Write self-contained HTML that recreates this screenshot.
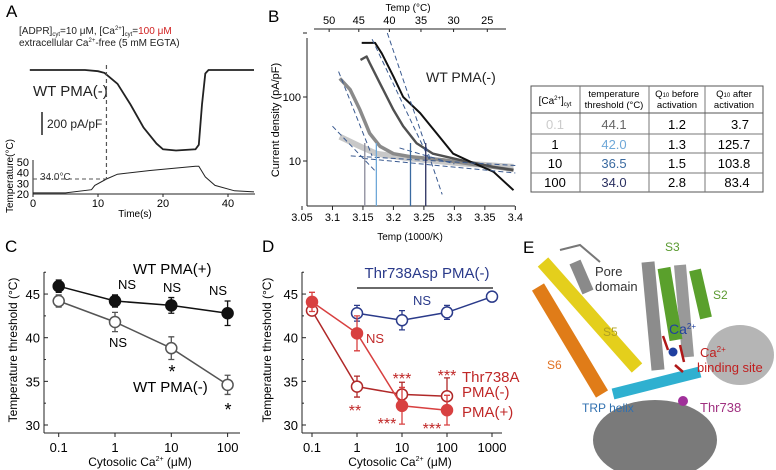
<!DOCTYPE html>
<html><head><meta charset="utf-8">
<style>
html,body{margin:0;padding:0;background:#fff;}
svg{display:block;font-family:"Liberation Sans",Arial,sans-serif;}
</style></head>
<body>
<svg id="fig" width="776" height="470" viewBox="0 0 776 470" xmlns="http://www.w3.org/2000/svg" font-family="Liberation Sans, Arial, sans-serif">
<!-- Panel A static -->
<g id="pA">
<text x="6" y="17" font-size="17">A</text>
<text x="19" y="34" font-size="10" fill="#222">[ADPR]<tspan font-size="6" dy="2">cyt</tspan><tspan dy="-2">=10 μM, [Ca</tspan><tspan font-size="6" dy="-4">2+</tspan><tspan dy="4">]</tspan><tspan font-size="6" dy="2">cyt</tspan><tspan dy="-2">=</tspan><tspan fill="#d02020">100 μM</tspan></text>
<text x="19" y="46" font-size="10" fill="#222">extracellular Ca<tspan font-size="6" dy="-4">2+</tspan><tspan dy="4">-free (5 mM EGTA)</tspan></text>
<text x="33" y="96" font-size="15" fill="#222">WT PMA(-)</text>
<line x1="42" y1="112" x2="42" y2="135" stroke="#222" stroke-width="1.5"/>
<text x="47" y="128" font-size="12" fill="#222">200 pA/pF</text>
<line x1="33" y1="160" x2="33" y2="194" stroke="#222"/>
<line x1="33" y1="194" x2="255" y2="194" stroke="#222"/>
<text font-size="10" text-anchor="middle" transform="rotate(-90)" x="-176" y="13">Temperature(°C)</text>
<text x="135" y="217" font-size="10" text-anchor="middle">Time(s)</text>
<text x="40" y="180" font-size="10" fill="#333">34.0°C</text>
</g>
<!-- Panel B static -->
<g id="pB">
<text x="268" y="22" font-size="17">B</text>
<text x="408" y="11" font-size="10" text-anchor="middle">Temp (°C)</text>
<line x1="314" y1="29" x2="506" y2="29" stroke="#222"/>
<line x1="307" y1="38" x2="307" y2="206" stroke="#222"/>
<line x1="307" y1="206" x2="515" y2="206" stroke="#222"/>
<text font-size="11" text-anchor="middle" transform="rotate(-90)" x="-120" y="279">Current density (pA/pF)</text>
<text x="410" y="240" font-size="10" text-anchor="middle">Temp (1000/K)</text>
<text x="426" y="82" font-size="14" fill="#222">WT PMA(-)</text>
</g>
<!-- Table -->
<g id="tbl" font-size="13" text-anchor="middle">
<rect x="531" y="86" width="232" height="106" fill="none" stroke="#555"/>
<line x1="580" y1="86" x2="580" y2="192" stroke="#777"/>
<line x1="649" y1="86" x2="649" y2="192" stroke="#777"/>
<line x1="705" y1="86" x2="705" y2="192" stroke="#777"/>
<line x1="531" y1="113" x2="763" y2="113" stroke="#555"/>
<line x1="531" y1="134" x2="763" y2="134" stroke="#777"/>
<line x1="531" y1="153" x2="763" y2="153" stroke="#777"/>
<line x1="531" y1="173" x2="763" y2="173" stroke="#777"/>
<text x="555" y="104" font-size="10">[Ca<tspan font-size="6" dy="-4">2+</tspan><tspan dy="4">]</tspan><tspan font-size="6" dy="2">cyt</tspan></text>
<text x="614" y="97" font-size="9.5">temperature</text>
<text x="614" y="108" font-size="9.5">threshold (°C)</text>
<text x="677" y="97" font-size="9.5">Q<tspan font-size="6">10</tspan> before</text>
<text x="677" y="108" font-size="9.5">activation</text>
<text x="734" y="97" font-size="9.5">Q<tspan font-size="6">10</tspan> after</text>
<text x="734" y="108" font-size="9.5">activation</text>
<text x="555" y="129" fill="#ccc">0.1</text>
<text x="614" y="129" fill="#666">44.1</text>
<text x="677" y="129">1.2</text>
<text x="740" y="129">3.7</text>
<text x="555" y="149">1</text>
<text x="614" y="149" fill="#6fa8d8">42.0</text>
<text x="677" y="149">1.3</text>
<text x="734" y="149">125.7</text>
<text x="555" y="168">10</text>
<text x="614" y="168" fill="#3a6aa0">36.5</text>
<text x="677" y="168">1.5</text>
<text x="734" y="168">103.8</text>
<text x="555" y="187">100</text>
<text x="614" y="187" fill="#2a3060">34.0</text>
<text x="677" y="187">2.8</text>
<text x="737" y="187">83.4</text>
</g>
<!-- Panel C static -->
<g id="pC">
<text x="5" y="252" font-size="17">C</text>
<line x1="44" y1="272" x2="44" y2="433" stroke="#222"/>
<line x1="44" y1="433" x2="240" y2="433" stroke="#222"/>
<text font-size="12" text-anchor="middle" transform="rotate(-90)" x="-350" y="17">Temperature threshold (°C)</text>
<text x="140" y="466" font-size="12" text-anchor="middle">Cytosolic Ca<tspan font-size="7" dy="-5">2+</tspan><tspan dy="5"> (μM)</tspan></text>
<text x="133" y="274" font-size="15">WT PMA(+)</text>
<text x="133" y="392" font-size="15">WT PMA(-)</text>
<g font-size="13" text-anchor="middle">
<text x="127" y="289">NS</text>
<text x="172" y="292">NS</text>
<text x="218" y="295">NS</text>
<text x="118" y="347">NS</text>
<text x="172" y="378" font-size="18">*</text>
<text x="228" y="416" font-size="18">*</text>
</g>
</g>
<!-- Panel D static -->
<g id="pD">
<text x="262" y="252" font-size="17">D</text>
<line x1="302" y1="272" x2="302" y2="433" stroke="#222"/>
<line x1="302" y1="433" x2="502" y2="433" stroke="#222"/>
<text font-size="12" text-anchor="middle" transform="rotate(-90)" x="-350" y="271">Temperature threshold (°C)</text>
<text x="400" y="466" font-size="12" text-anchor="middle">Cytosolic Ca<tspan font-size="7" dy="-5">2+</tspan><tspan dy="5"> (μM)</tspan></text>
<text x="427" y="278" font-size="15" fill="#2a3a8a" text-anchor="middle">Thr738Asp PMA(-)</text>
<line x1="357" y1="288" x2="493" y2="288" stroke="#111" stroke-width="1.3"/>
<text x="422" y="305" font-size="13" fill="#2a3a8a" text-anchor="middle">NS</text>
<g fill="#c02828" font-size="13">
<text x="375" y="343" text-anchor="middle">NS</text>
<text x="402" y="384" font-size="16" text-anchor="middle">***</text>
<text x="447" y="381" font-size="16" text-anchor="middle">***</text>
<text x="355" y="416" font-size="16" text-anchor="middle">**</text>
<text x="387" y="429" font-size="16" text-anchor="middle">***</text>
<text x="432" y="434" font-size="16" text-anchor="middle">***</text>
<text x="462" y="382" font-size="15">Thr738Ala</text>
<text x="462" y="397" font-size="15">PMA(-)</text>
<text x="462" y="417" font-size="15">PMA(+)</text>
</g>
</g>
<!-- Panel E -->
<g id="pE">
<rect x="520" y="232" width="256" height="238" fill="#fff"/>
<ellipse cx="655" cy="440" rx="62" ry="40" fill="#7a7a7a"/>
<ellipse cx="740" cy="355" rx="34" ry="30" fill="#b5b5b5"/>
<path d="M560,250 L580,245 L600,262" stroke="#777" stroke-width="2" fill="none"/>
<line x1="575" y1="262" x2="588" y2="292" stroke="#8a8a8a" stroke-width="12"/>
<line x1="648" y1="262" x2="658" y2="370" stroke="#8c8c8c" stroke-width="13"/>
<line x1="680" y1="265" x2="688" y2="357" stroke="#999" stroke-width="12"/>
<line x1="664" y1="268" x2="676" y2="340" stroke="#5aa02c" stroke-width="13"/>
<line x1="695" y1="270" x2="706" y2="318" stroke="#5aa02c" stroke-width="12"/>
<line x1="538" y1="287" x2="602" y2="394" stroke="#e07c18" stroke-width="14"/>
<line x1="543" y1="262" x2="637" y2="368" stroke="#e4cf1c" stroke-width="14"/>
<line x1="613" y1="394" x2="700" y2="372" stroke="#2fb0d0" stroke-width="11"/>
<circle cx="673" cy="352" r="4.5" fill="#1f3fa0"/>
<path d="M663,336 L668,350 M680,345 L684,362 M675,365 L683,372" stroke="#b01818" stroke-width="2.5"/>
<circle cx="683" cy="401" r="5" fill="#a0309a"/>
<text x="523" y="253" font-size="17">E</text>
<text x="595" y="276" font-size="13" fill="#333">Pore</text>
<text x="595" y="291" font-size="13" fill="#333">domain</text>
<text x="665" y="251" font-size="12" fill="#5a9a30">S3</text>
<text x="713" y="299" font-size="12" fill="#5a9a30">S2</text>
<text x="603" y="336" font-size="12" fill="#b0a020">S5</text>
<text x="547" y="369" font-size="12" fill="#e07020">S6</text>
<text x="669" y="334" font-size="14" fill="#2040a0">Ca<tspan font-size="8" dy="-5">2+</tspan></text>
<text x="700" y="357" font-size="13" fill="#c02020">Ca<tspan font-size="8" dy="-5">2+</tspan></text>
<text x="697" y="372" font-size="13" fill="#c02020">binding site</text>
<text x="582" y="412" font-size="12" fill="#3070b0">TRP helix</text>
<text x="700" y="412" font-size="13" fill="#a03080">Thr738</text>
</g>
<g id="marks"></g>
</svg>
<script>
// Panel A data
const aTime=[-0.5,8,10,11,13,15,17,19,20,22,25,25.5,26,26.5,27,34];
const aCurrent=[0,0,-10,-25,-120,-300,-500,-640,-690,-700,-690,-650,-300,-30,0,0];
const aTempTime=[0,5,9,9.5,11.3,13,18,25,25.5,26.5,28,31,34];
const aTemp=[21,21,24,28,34,38.5,42,46,46,36,28,23,22];
const aTempTicks=[20,30,40,50];
const aTimeTicks=[0,10,20,30];
const aTimeTickLabels=["0","10","20","40"];
const aThreshold=34.0;
const aThresholdTime=11.3;
// Panel B data (x: 1000/K, y: pA/pF)
const bInvT100=[3.148,3.170,3.181,3.200,3.216,3.244,3.271,3.298,3.331,3.364,3.397];
const bCur100=[700,700,480,210,100,56,27,13,9.3,6.8,3.5];
const bInvT10=[3.146,3.156,3.161,3.178,3.200,3.216,3.238,3.265,3.309,3.364,3.397];
const bCur10=[380,430,340,163,63,35,19,13,10.4,8.1,7.2];
const bInvT1=[3.112,3.129,3.145,3.161,3.178,3.200,3.227,3.282,3.336,3.397];
const bCur1=[195,130,63,27,17,13,11.7,10.4,8.7,7.2];
const bInvT01=[3.112,3.145,3.172,3.227,3.309,3.397];
const bCur01=[24,17,13,11,9.2,8.1];
const bThresholdInvT=[3.153,3.172,3.228,3.253];
const bXTicks=[3.05,3.1,3.15,3.2,3.25,3.3,3.35,3.4];
const bYTicks=[10,100,1000];
const bYTickLabels=["10","100",""];
const bTopTicks=[50,45,40,35,30,25];
// Panel C data
const cConc=[0.1,1,10,100];
const cPlus=[45.9,44.2,43.7,42.8];
const cPlusErr=[0.7,0.7,0.9,1.4];
const cMinus=[44.2,41.8,38.8,34.6];
const cMinusErr=[0.7,1.1,1.3,1.1];
const cdYTicks=[30,35,40,45];
// Panel D data
const dConcAsp=[1,10,100,1000];
const dAsp=[42.8,42.0,42.9,44.7];
const dAspErr=[0.9,1.1,0.8,0.3];
const dConcAla=[0.1,1,10,100];
const dAlaMinus=[43.1,34.4,33.5,33.3];
const dAlaMinusErr=[0.5,1.2,1.4,2.1];
const dAlaPlus=[44.1,40.5,32.2,31.7];
const dAlaPlusErr=[1.1,2.0,2.1,1.7];
const dXTicks=[0.1,1,10,100,1000];

const NS='http://www.w3.org/2000/svg';
const root=document.getElementById('marks');
function mk(tag,attrs){const e=document.createElementNS(NS,tag);for(const k in attrs)e.setAttribute(k,attrs[k]);root.appendChild(e);return e;}
function pts(xs,ys,fx,fy){return xs.map((x,i)=>fx(x).toFixed(1)+','+fy(ys[i]).toFixed(1)).join(' ');}

// Axis functions
const AX=t=>33+t*6.5;
const AY=c=>70-c*23/200;
const ATY=T=>194-(T-20)*1.07;
const BX=v=>302+(v-3.05)*609.5;
const BY=c=>161-64*(Math.log10(c)-1);
const CX=c=>115+56.3*Math.log10(c);
const CY=t=>425-(t-30)*8.73;
const DX=c=>357+45*Math.log10(c);

// Panel A
let e=mk('polyline',{points:pts(aTime,aCurrent,AX,AY),fill:'none',stroke:'#222','stroke-width':1.8});


e=mk('polyline',{points:pts(aTempTime,aTemp,AX,ATY),fill:'none',stroke:'#222','stroke-width':1});


e=mk('line',{x1:AX(aThresholdTime),y1:65,x2:AX(aThresholdTime),y2:ATY(aThreshold),stroke:'#555','stroke-dasharray':'4,3','stroke-width':1.2});


e=mk('line',{x1:33,y1:ATY(aThreshold),x2:AX(aThresholdTime),y2:ATY(aThreshold),stroke:'#555','stroke-dasharray':'4,3','stroke-width':1});


aTempTicks.forEach(T=>{
  e=mk('text',{x:29,y:ATY(T)+4,'font-size':11,'text-anchor':'end'});e.textContent=T;
  
  
});
aTimeTicks.forEach((t,i)=>{
  e=mk('line',{x1:AX(t),y1:194,x2:AX(t),y2:197,stroke:'#222'});
  
  
  e=mk('text',{x:AX(t),y:207,'font-size':11,'text-anchor':'middle'});e.textContent=aTimeTickLabels[i];
  
  
});

// Panel B
bXTicks.forEach(v=>{
  e=mk('line',{x1:BX(v),y1:206,x2:BX(v),y2:210,stroke:'#222'});
  
  
  e=mk('text',{x:BX(v),y:221,'font-size':11,'text-anchor':'middle'});e.textContent=String(v);
  
  
});
bYTicks.forEach((c,i)=>{
  e=mk('line',{x1:303,y1:BY(c),x2:307,y2:BY(c),stroke:'#222'});
  
  
  e=mk('text',{x:301,y:BY(c)+4,'font-size':11,'text-anchor':'end'});e.textContent=bYTickLabels[i];
  
  
});
bTopTicks.forEach(T=>{
  const v=1000/(T+273.15);
  e=mk('line',{x1:BX(v),y1:29,x2:BX(v),y2:32,stroke:'#222'});
  
  
  e=mk('text',{x:BX(v),y:24,'font-size':11,'text-anchor':'middle'});e.textContent=T;
  
  
});
const bSeries=[[bInvT01,bCur01,'#c8c8c8',6,'trace-ca-0.1'],[bInvT1,bCur1,'#8a8a8a',3.5,'trace-ca-1'],[bInvT10,bCur10,'#505050',2.4,'trace-ca-10'],[bInvT100,bCur100,'#111',2,'trace-ca-100']];
bSeries.forEach(s=>{
  e=mk('polyline',{points:pts(s[0],s[1],BX,BY),fill:'none',stroke:s[2],'stroke-width':s[3],'stroke-linejoin':'round'});
  
  
});
const bFits=[[3.19,1000,3.28,3.0],[3.165,800,3.26,10],[3.10,35,3.17,7],[3.11,250,3.165,12],[3.13,12,3.40,8.5],[3.15,11,3.40,6.5],[3.21,16,3.30,9]];
bFits.forEach(f=>{
  e=mk('line',{x1:BX(f[0]),y1:BY(f[1]),x2:BX(f[2]),y2:BY(f[3]),stroke:'#3a5a90','stroke-dasharray':'5,3','stroke-width':1});
  
  
});
const bVColors=['#8a8a9a','#6fa8d8','#3a6aa0','#2a3060'];
bThresholdInvT.forEach((v,i)=>{
  e=mk('line',{x1:BX(v),y1:143,x2:BX(v),y2:206,stroke:bVColors[i],'stroke-width':1.3});
  
  
});

// Panels C & D
function ticksCD(fx,xs,lbl){
  xs.forEach(c=>{
    e=mk('line',{x1:fx(c),y1:433,x2:fx(c),y2:437,stroke:'#222'});
    
    
    e=mk('text',{x:fx(c),y:452,'font-size':13,'text-anchor':'middle'});e.textContent=String(c);
    
    
  });
}
ticksCD(CX,cConc,'c');
ticksCD(DX,dXTicks,'d');
[[44,'c'],[302,'d']].forEach(p=>{
  cdYTicks.forEach(t=>{
    e=mk('line',{x1:p[0],y1:CY(t),x2:p[0]+4,y2:CY(t),stroke:'#222'});
    
    
    e=mk('line',{x1:p[0],y1:CY(t+2.5),x2:p[0]+2,y2:CY(t+2.5),stroke:'#222'});
    
    
    e=mk('text',{x:p[0]-4,y:CY(t)+5,'font-size':13,'text-anchor':'end'});e.textContent=t;
    
    
  });
});
function series(fx,xs,ys,errs,color,filled,name){
  e=mk('polyline',{points:pts(xs,ys,fx,CY),fill:'none',stroke:color,'stroke-width':1.5});
  
  
  xs.forEach((x,i)=>{
    const px=fx(x),y1=CY(ys[i]+errs[i]),y2=CY(ys[i]-errs[i]);
    e=mk('path',{d:`M${px},${y1}V${y2}M${px-3},${y1}H${px+3}M${px-3},${y2}H${px+3}`,stroke:color,'stroke-width':1.3,fill:'none'});
    
    
    e=mk('circle',{cx:px,cy:CY(ys[i]),r:5.5,fill:filled?color:'#fff',stroke:color,'stroke-width':1.5});
    
    
  });
}
series(CX,cConc,cMinus,cMinusErr,'#555',false,'wt-pma-minus');
series(CX,cConc,cPlus,cPlusErr,'#111',true,'wt-pma-plus');
series(DX,dConcAsp,dAsp,dAspErr,'#2a3a8a',false,'thr738asp');
series(DX,dConcAla,dAlaMinus,dAlaMinusErr,'#b02828',false,'thr738ala-pma-minus');
series(DX,dConcAla,dAlaPlus,dAlaPlusErr,'#d84040',true,'thr738ala-pma-plus');
</script>
</body></html>
